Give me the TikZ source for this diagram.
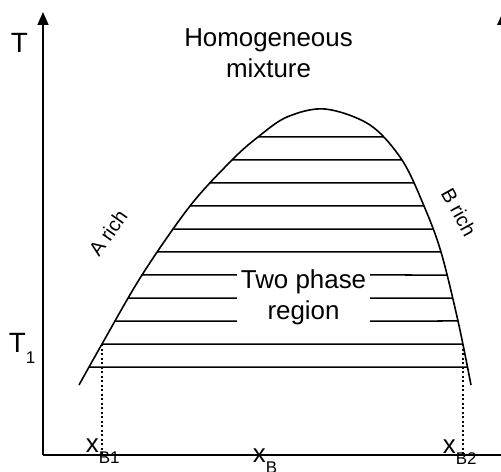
\documentclass[tikz,border=0pt]{standalone}
\usepackage{fontspec}
\setmainfont{Liberation Sans}
\usetikzlibrary{arrows.meta, intersections}

\newcommand{\lowsub}[1]{\raisebox{-11bp}{\fontsize{17}{17}\selectfont #1}}

\begin{document}
\begin{tikzpicture}[>={Triangle[length=13bp,width=11bp]}, x=1bp, y=-1bp, line width=1.6bp,
		lbl/.style={inner sep=0pt, font=\fontsize{26}{31}\selectfont},
		axlbl/.style={inner sep=0pt, anchor=base west, font=\fontsize{28}{31}\selectfont},
		side/.style={inner sep=0pt, font=\fontsize{20}{24}\selectfont},
		tie/.style={line width=1.5bp},
		guide/.style={line width=1.4bp, dash pattern=on 2bp off 2.5bp}]
	\clip (0,0) rectangle (501,472);

	% axes
	\coordinate (O) at (43,455);
	\coordinate (Ttop) at (43,12);
	\coordinate (xend) at (510,455);
	\draw[->] (O) -- (Ttop);
	\draw (O) -- (xend);
	\fill (497,25) -- (503,12) -- (509,25) -- cycle;

	% miscibility gap
	\draw[name path=curve] plot[smooth, tension=0.55] coordinates
		{(79,385) (102,344) (142,275) (190,206) (232,160) (258,137) (287,117) (325,109)
		 (370,125) (402,160) (424,206) (441,252) (458,321) (471,385)};

	% tie lines
	\foreach \y [count=\i] in {137,160,183,206,229,252,275,298,321,344,367}{
		\path[name path=hl] (45,\y) -- (495,\y);
		\path[name intersections={of=hl and curve, sort by=hl, by={l\i,r\i}}];
		\draw[tie] (l\i) -- (r\i);
	}

	\draw[guide] (l10) -- (l10 |- O);
	\draw[guide] (r10) -- (r10 |- O);

	\node[lbl, align=center, fill=white, inner xsep=3.5bp, inner ysep=6bp, anchor=north] (two) at (303.5,263) {Two phase\\region};
	\node[lbl, align=center, anchor=north] (homo) at (268.5,28) {Homogeneous\\mixture};

	\node[side, rotate=55] (arich) at (108,233) {A rich};
	\node[side, rotate=-61] (brich) at (459,212) {B rich};

	\node[axlbl] (T) at (10,53) {T};
	\node[axlbl] (T1) at (8,352) {T\lowsub{1}};

	\node[lbl, anchor=base west] (xb1) at (85,452) {x\lowsub{B1}};
	\node[lbl, anchor=base west] (xb) at (252,462) {x\lowsub{B}};
	\node[lbl, anchor=base west] (xb2) at (442,453) {x\lowsub{B2}};
\end{tikzpicture}
\end{document}
